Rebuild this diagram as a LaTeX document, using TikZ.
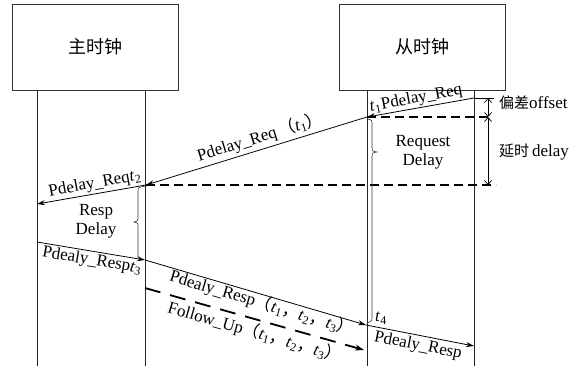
\documentclass[tikz,border=0pt]{standalone}
\usepackage{fontspec}
\setmainfont{Liberation Serif}
\newfontfamily\cjk{Noto Sans CJK SC}
\usetikzlibrary{arrows.meta}
\newcommand\tsub[1]{\textit{t}\textsubscript{#1}}
\newcommand\lp{{\cjk （}}
\newcommand\rp{{\cjk ）}}
\newcommand\cm{{\cjk ，}}
\tikzset{
  box/.style={draw=black!80, line width=0.8pt, minimum width=166pt, minimum height=86pt, inner sep=0pt, font=\cjk\fontsize{18}{20}\selectfont},
  life/.style={draw=black!85, line width=0.8pt},
  msg/.style={draw=black, line width=0.8pt, -{Stealth[length=8pt,width=5pt]}},
  dmsg/.style={draw=black, line width=1.8pt, dash pattern=on 16pt off 10pt, -{Stealth[length=9pt,width=6pt]}},
  hdash/.style={draw=black, line width=1.5pt, dash pattern=on 9pt off 5pt},
  lbl/.style={font=\fontsize{17}{19}\selectfont, inner sep=0pt},
  brc/.style={draw=black!80, line width=0.6pt},
  tickline/.style={draw=black, line width=0.7pt},
}
\begin{document}
\begin{tikzpicture}[x=1pt,y=-1pt]
\useasboundingbox (0,0) rectangle (588,371);
% clocks
\node[box] (M) at (95,47) {主时钟};
\node[box] (S) at (422,47) {从时钟};
% lifelines
\coordinate (ma) at (37,90);  \coordinate (mab) at (37,366);
\coordinate (mb) at (145,90); \coordinate (mbb) at (145,366);
\coordinate (sa) at (367,90); \coordinate (sab) at (367,366);
\coordinate (sb) at (474,90); \coordinate (sbb) at (474,366);
\draw[life] (ma) -- (mab);
\draw[life] (mb) -- (mbb);
\draw[life] (sa) -- (sab);
\draw[life] (sb) -- (sbb);
% event points
\coordinate (A1) at (474,98);
\coordinate (T1) at (367,117);
\coordinate (T2) at (146,185);
\coordinate (L1) at (37,204);
\coordinate (L2) at (37,242);
\coordinate (T3) at (145,260);
\coordinate (T4) at (366,325);
\coordinate (R4) at (474,346);
\coordinate (F1) at (145,288);
\coordinate (F2) at (364,350);
% horizontal dashed references
\coordinate (D1e) at (488,117);
\coordinate (D2e) at (496,185);
\draw[hdash] (T1) -- (D1e);
\draw[hdash] (T2) -- (D2e);
% messages
\draw[msg] (A1) -- (T1);
\draw[msg] (T1) -- (T2);
\draw[msg] (T2) -- (L1);
\draw[msg] (L2) -- (T3);
\draw[msg] (T3) -- (T4);
\draw[dmsg] (F1) -- (F2);
\draw[msg] (T4) -- (R4);
% offset / delay marker
\coordinate (K0) at (494,98);
\coordinate (K1) at (488,98);
\coordinate (K2) at (488,117);
\coordinate (K3) at (488,185);
\draw[tickline] (A1) -- (K0);
\draw[tickline, {Straight Barb[length=4pt,width=7pt]}-{Straight Barb[length=4pt,width=7pt]}] (K1) -- (K2);
\draw[tickline, {Straight Barb[length=4pt,width=7pt]}-{Straight Barb[length=4pt,width=7pt]}] (K2) -- (K3);
% braces
\draw[brc] (147,186) .. controls (138,187) .. (138,192) -- (138,218) .. controls (138,221) .. (134,222) .. controls (138,223) .. (138,227) -- (138,254) .. controls (138,258) .. (142,259);
\draw[brc] (367,119) .. controls (372,120) .. (372,124) -- (372,148) .. controls (372,151) .. (377,152) .. controls (372,153) .. (372,156) -- (372,316) .. controls (372,321) .. (367,323);
% labels
\node[lbl, rotate=10.7] (l1) at (416,99) {\tsub{1}Pdelay\_Req};
\node[lbl, rotate=16.9] (l2) at (260,137) {Pdelay\_Req\,\lp\tsub{1}\rp};
\node[lbl, rotate=10.4] (l3) at (95,184) {Pdelay\_Req\tsub{2}};
\node[lbl, align=center] (l4) at (96,221) {Resp\\Delay};
\node[lbl, align=center] (l5) at (423,152) {Request\\Delay};
\node[lbl, rotate=-9.5] (l6) at (92,261) {Pdealy\_Resp\tsub{3}};
\node[lbl, rotate=-16.6] (l7) at (262,303) {Pdealy\_Resp\lp\tsub{1}\cm\tsub{2}\cm\tsub{3}\rp};
\node[lbl, rotate=-16.0] (l8) at (255,332) {Follow\_Up\lp\tsub{1}\cm\tsub{2}\cm\tsub{3}\rp};
\node[lbl] (l9) at (381,318) {\tsub{4}};
\node[lbl, rotate=-11.1] (l10) at (418,346) {Pdealy\_Resp};
\node[lbl, anchor=west] (l11) at (499,103) {{\cjk\fontsize{15}{17}\selectfont 偏差}offset};
\node[lbl, anchor=west] (l12) at (499,152) {{\cjk\fontsize{15}{17}\selectfont 延时}\,delay};
\end{tikzpicture}
\end{document}
